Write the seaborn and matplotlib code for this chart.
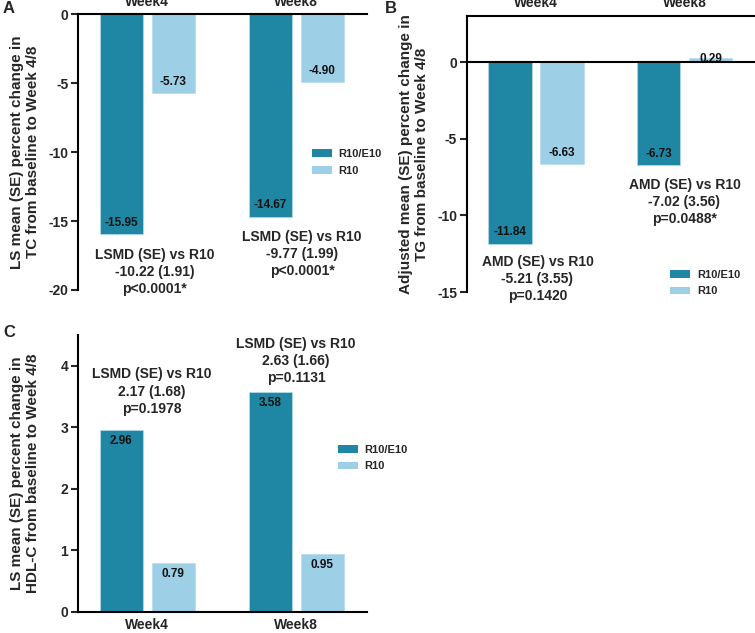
import pandas as pd
import matplotlib
matplotlib.use('Agg')
import matplotlib.pyplot as plt
import seaborn as sns
from matplotlib.patches import Patch

# Data
weeks = ['Week4', 'Week8']
groups = ['R10/E10', 'R10']

tc_combo = [-15.95, -14.67]
tc_r10 = [-5.73, -4.90]
tg_combo = [-11.84, -6.73]
tg_r10 = [-6.63, 0.29]
hdl_combo = [2.96, 3.58]
hdl_r10 = [0.79, 0.95]

tc_notes = ['LSMD (SE) vs R10\n-10.22 (1.91)\np<0.0001*',
            'LSMD (SE) vs R10\n-9.77 (1.99)\np<0.0001*']
tg_notes = ['AMD (SE) vs R10\n-5.21 (3.55)\np=0.1420',
            'AMD (SE) vs R10\n-7.02 (3.56)\np=0.0488*']
hdl_notes = ['LSMD (SE) vs R10\n2.17 (1.68)\np=0.1978',
             'LSMD (SE) vs R10\n2.63 (1.66)\np=0.1131']

colors = {'R10/E10': '#1f87a3', 'R10': '#9dcfe7'}

sns.set_theme(style='ticks')
plt.rcParams['font.family'] = ['Liberation Sans', 'DejaVu Sans']
plt.rcParams['font.weight'] = 'bold'
plt.rcParams['axes.labelweight'] = 'bold'
plt.rcParams['axes.unicode_minus'] = False


def make_df(combo, r10):
    return pd.DataFrame({
        'week': weeks * 2,
        'group': [groups[0]] * 2 + [groups[1]] * 2,
        'value': combo + r10,
    })


def draw_panel(ax, combo, r10, notes, note_pos, ylabel):
    df = make_df(combo, r10)
    sns.barplot(data=df, x='week', y='value', hue='group', order=weeks,
                hue_order=groups, palette=colors, saturation=1, width=0.7,
                gap=0.17, errorbar=None, edgecolor='#b5dcec', linewidth=0.5,
                legend=False, ax=ax)
    # value labels just inside the bar ends
    for cont in ax.containers:
        for bar in cont:
            v = bar.get_height()
            xc = bar.get_x() + bar.get_width() / 2
            if abs(v) < 0.5:
                off = -1
            else:
                off = 8 if v < 0 else -8
            ax.annotate(f'{v:.2f}', (xc, v), xytext=(0, off),
                        textcoords='offset points', ha='center', va='center',
                        fontsize=8.5, fontweight='bold', color='#111111')
    # comparison notes, one per week (x given as offset from the week position)
    for i, ((dx, y), t) in enumerate(zip(note_pos, notes)):
        ax.text(i + dx, y, t, ha='center', va='center', fontsize=10,
                fontweight='bold', linespacing=1.3)
    ax.set_xlim(-0.465, 1.475)
    ax.set_xlabel('')
    ax.set_ylabel(ylabel, fontsize=11)
    ax.yaxis.set_label_coords(-0.131, 0.5)
    for s in ax.spines.values():
        s.set_linewidth(1.5)
        s.set_color('black')
    ax.spines['right'].set_visible(False)
    ax.tick_params(axis='y', length=5, width=1.5, pad=2, labelsize=10)
    ax.tick_params(axis='x', length=0, pad=4, labelsize=10)
    for lab in ax.get_xticklabels() + ax.get_yticklabels():
        lab.set_fontweight('bold')


def add_legend(ax, anchor):
    handles = [Patch(facecolor=colors[g], edgecolor='none', label=g) for g in groups]
    ax.legend(handles=handles, loc='upper left', bbox_to_anchor=anchor,
              frameon=False, fontsize=8, handlelength=1.8, handleheight=0.7,
              handletextpad=0.6, labelspacing=0.6, borderaxespad=0)


fig = plt.figure(figsize=(7.55, 6.33), dpi=100)
axA = fig.add_axes([0.1033, 0.5419, 0.3828, 0.4352])
axB = fig.add_axes([0.6185, 0.5387, 0.3815, 0.436])
axC = fig.add_axes([0.1033, 0.0332, 0.3828, 0.4376])

# A: total cholesterol
draw_panel(axA, tc_combo, tc_r10, tc_notes, [(0.05, -18.7), (0.04, -17.4)],
           'LS mean (SE) percent change in\nTC from baseline to Week 4/8')
axA.set_ylim(-20, 0)
axA.set_yticks([-20, -15, -10, -5, 0])
axA.xaxis.tick_top()
axA.spines['bottom'].set_visible(False)
add_legend(axA, (0.793, 0.527))

# B: triglycerides
draw_panel(axB, tg_combo, tg_r10, tg_notes, [(0.01, -14.15), (0.0, -9.13)],
           'Adjusted mean (SE) percent change in\nTG from baseline to Week 4/8')
axB.set_ylim(-15, 3)
axB.set_yticks([-15, -10, -5, 0])
axB.xaxis.tick_top()
axB.spines['bottom'].set_visible(False)
axB.axhline(0, color='black', lw=1.5, zorder=3)
add_legend(axB, (0.69, 0.097))

# C: HDL-C
draw_panel(axC, hdl_combo, hdl_r10, hdl_notes, [(0.03, 3.58), (0.0, 4.08)],
           'LS mean (SE) percent change in\nHDL-C from baseline to Week 4/8')
axC.set_ylim(0, 4.5)
axC.set_yticks([0, 1, 2, 3, 4])
axC.spines['top'].set_visible(False)
add_legend(axC, (0.883, 0.62))

for lbl, (x, y) in zip('ABC', [(0.003, 0.998), (0.51, 0.998), (0.004, 0.487)]):
    fig.text(x, y, lbl, fontsize=12, fontweight='bold', va='top', ha='left')

fig.savefig('out.png', dpi=100)
